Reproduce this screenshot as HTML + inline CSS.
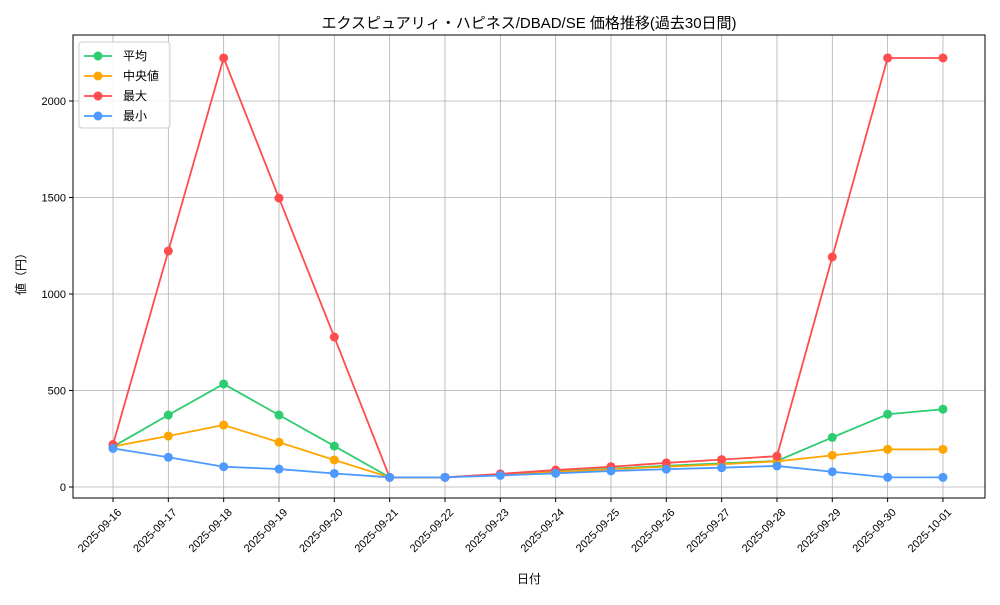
<!DOCTYPE html>
<html><head><meta charset="utf-8"><style>
body{margin:0;background:#fff;font-family:"Liberation Sans","Noto Sans CJK JP",sans-serif;}
svg text{font-family:"Liberation Sans","Noto Sans CJK JP",sans-serif;fill:#000;}
</style></head><body>
<svg id="chart" width="1000" height="600" xmlns="http://www.w3.org/2000/svg">
<rect width="1000" height="600" fill="#fff"/>
<text x="529" y="28" font-size="15" text-anchor="middle">エクスピュアリィ・ハピネス/DBAD/SE 価格推移(過去30日間)</text>
<g id="grid"></g><g id="series"></g><g id="axes"></g>
<text x="529" y="583" font-size="12" text-anchor="middle">日付</text>
<text transform="translate(25,271) rotate(-90)" font-size="12" text-anchor="middle">値（円）</text>
<g id="legend"></g>
</svg>
<script>
const categories=["2025-09-16","2025-09-17","2025-09-18","2025-09-19","2025-09-20","2025-09-21","2025-09-22","2025-09-23","2025-09-24","2025-09-25","2025-09-26","2025-09-27","2025-09-28","2025-09-29","2025-09-30","2025-10-01"];
const meanValues=[209,373,534,373,212,50,50,65,80,95,110,122,135,257,377,403];
const medianValues=[210,264,321,232,140,50,50,65,78,92,105,118,133,164,195,195];
const maxValues=[220,1223,2223,1497,777,50,50,68,88,105,125,142,160,1192,2223,2223];
const minValues=[200,154,105,93,70,50,50,60,71,83,92,100,109,79,50,50];
const yTicks=[0,500,1000,1500,2000];
const seriesNames=["平均","中央値","最大","最小"];
const NS="http://www.w3.org/2000/svg";
const L=73,R=985,T=35,B=498;
const xMin=-0.723,xMax=categories.length-1+0.76,yMin=-57,yMax=2342;
const xs=i=>L+(i-xMin)/(xMax-xMin)*(R-L);
const ys=v=>B-(v-yMin)/(yMax-yMin)*(B-T);
function mk(tag,attrs,parent){const e=document.createElementNS(NS,tag);for(const k in attrs)e.setAttribute(k,attrs[k]);parent.appendChild(e);return e;}
const grid=document.getElementById('grid'),axes=document.getElementById('axes'),ser=document.getElementById('series'),leg=document.getElementById('legend');
categories.forEach((c,i)=>{
 const x=xs(i);
 const g=mk('line',{x1:x,x2:x,y1:T,y2:B,stroke:'#b0b0b0','stroke-width':0.8},grid);
 
 
 mk('line',{x1:x,x2:x,y1:B,y2:B+4,stroke:'#000'},axes);
 const t=mk('text',{transform:`translate(${x+4},${B+10}) rotate(-45)`,'font-size':11,'text-anchor':'end','dominant-baseline':'hanging'},axes);
 t.textContent=c;
 
 
});
yTicks.forEach(v=>{
 const y=ys(v);
 const g=mk('line',{x1:L,x2:R,y1:y,y2:y,stroke:'#b0b0b0','stroke-width':0.8},grid);
 
 
 mk('line',{x1:L-4,x2:L,y1:y,y2:y,stroke:'#000'},axes);
 const t=mk('text',{x:L-7,y:y+4,'font-size':11,'text-anchor':'end'},axes);
 t.textContent=v;
 
 
});
const frame=mk('rect',{x:L,y:T,width:R-L,height:B-T,fill:'none',stroke:'#000','stroke-width':1},axes);


const all=[[meanValues,'#2ecc71','mean'],[medianValues,'#ffa500','median'],[maxValues,'#ff4c4c','max'],[minValues,'#4c9aff','min']];
all.forEach(([vals,col,nm])=>{
 const g=mk('g',{},ser);
 
 
 const pl=mk('polyline',{points:vals.map((v,i)=>xs(i)+','+ys(v)).join(' '),fill:'none',stroke:col,'stroke-width':1.8},g);
 
 
 vals.forEach((v,i)=>{
  const c=mk('circle',{cx:xs(i),cy:ys(v),r:4.5,fill:col},g);
  
  
 });
});
const box=mk('rect',{x:79,y:42,width:91,height:86,rx:3,fill:'#fff','fill-opacity':0.85,stroke:'#ccc'},leg);


all.forEach(([v,col,nm],i)=>{
 const y=56+i*20;
 const g=mk('g',{},leg);
 
 
 mk('line',{x1:84,x2:112,y1:y,y2:y,stroke:col,'stroke-width':1.8},g);
 mk('circle',{cx:98,cy:y,r:4.5,fill:col},g);
 const t=mk('text',{x:123,y:y+4,'font-size':12},g);
 t.textContent=seriesNames[i];
});
</script>
</body></html>
